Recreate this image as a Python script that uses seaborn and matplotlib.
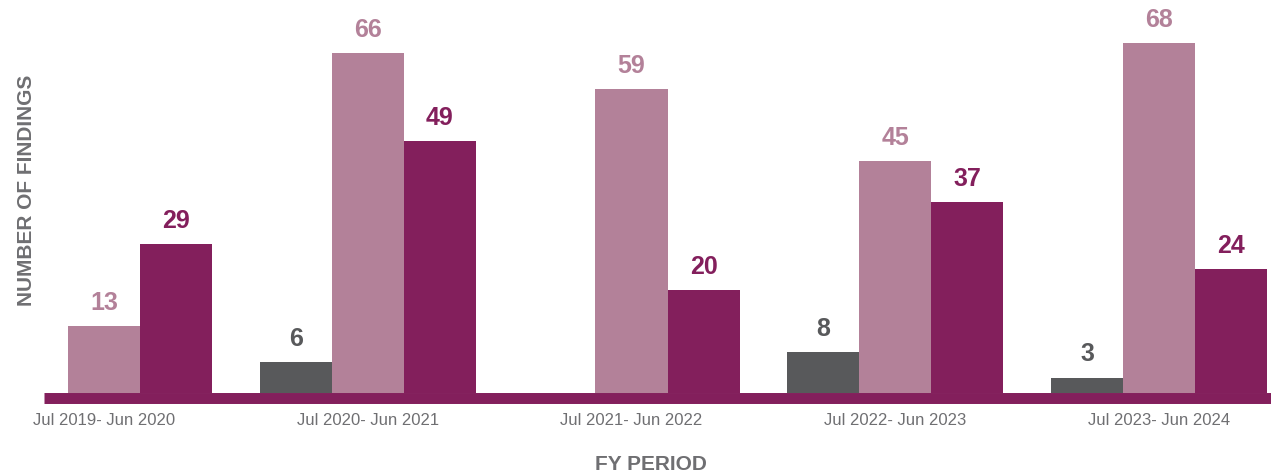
import numpy as np
import pandas as pd
import matplotlib
matplotlib.use("Agg")
import matplotlib.pyplot as plt
import seaborn as sns

# ---- data ----
periods = ["Jul 2019- Jun 2020", "Jul 2020- Jun 2021", "Jul 2021- Jun 2022",
           "Jul 2022- Jun 2023", "Jul 2023- Jun 2024"]
series_names = ["Series 1", "Series 2", "Series 3"]
series1 = [0, 6, 0, 8, 3]
series2 = [13, 66, 59, 45, 68]
series3 = [29, 49, 20, 37, 24]

colors = ["#58595b", "#b38199", "#831f5c"]
label_colors = ["#58595b", "#b38199", "#831f5c"]
text_gray = "#6f6f72"

df = pd.DataFrame({
    "period": periods * 3,
    "series": [series_names[0]] * 5 + [series_names[1]] * 5 + [series_names[2]] * 5,
    "findings": series1 + series2 + series3,
})

sns.set_style("white")
plt.rcParams["font.family"] = ["Liberation Sans", "DejaVu Sans"]

W, H = 1271, 473
fig = plt.figure(figsize=(W / 100, H / 100), dpi=100)
ax_left, ax_right, ax_bottom_px = 44, 1271, 393
ax = fig.add_axes([ax_left / W, 1 - ax_bottom_px / H, (ax_right - ax_left) / W, ax_bottom_px / H])

sns.barplot(data=df, x="period", y="findings", hue="series", order=periods,
            hue_order=series_names, palette=colors, width=0.819, gap=0,
            saturation=1, legend=False, ax=ax, linewidth=0)

spacing = 263.75
ax.set_xlim((ax_left - 104) / spacing, (ax_right - 104) / spacing)
ax.set_ylim(0, ax_bottom_px / 5.15)

for cont, col in zip(ax.containers, label_colors):
    labels = [f"{int(v)}" if v > 0 else "" for v in cont.datavalues]
    ax.bar_label(cont, labels=labels, padding=8, color=col, fontsize=18,
                 fontweight="bold")

for s in ["left", "right", "top"]:
    ax.spines[s].set_visible(False)
sp = ax.spines["bottom"]
sp.set_color("#831f5c")
sp.set_linewidth(7.9)
sp.set_capstyle("butt")
sp.set_position(("outward", 3.5))
sp.set_zorder(3)

ax.tick_params(axis="x", length=0, pad=11, labelsize=12, labelcolor=text_gray)
ax.tick_params(axis="y", left=False, labelleft=False)
ax.set_yticks([])

ax.set_xlabel("FY PERIOD", fontsize=15, fontweight="bold", color=text_gray, va="center")
ax.xaxis.set_label_coords((651 - ax_left) / (ax_right - ax_left), (ax_bottom_px - 464) / ax_bottom_px)
ax.set_ylabel("NUMBER OF FINDINGS", fontsize=15, fontweight="bold", color=text_gray, va="center")
ax.yaxis.set_label_coords((26 - ax_left) / (ax_right - ax_left), (ax_bottom_px - 190) / ax_bottom_px)

fig.savefig("out.png", dpi=100)
